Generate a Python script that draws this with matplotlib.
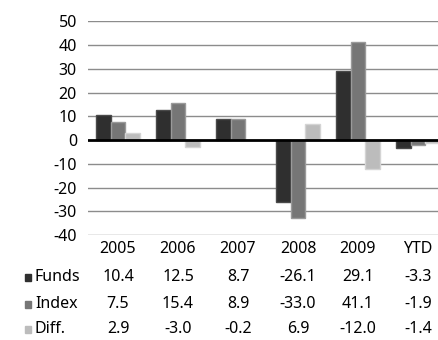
import numpy as np
import matplotlib
matplotlib.use("Agg")
import matplotlib.pyplot as plt
import matplotlib.transforms as mtransforms

plt.rcParams['font.family'] = ['Noto Sans', 'DejaVu Sans']

# data
years = ['2005', '2006', '2007', '2008', '2009', 'YTD']
funds = [10.4, 12.5, 8.7, -26.1, 29.1, -3.3]
index = [7.5, 15.4, 8.9, -33.0, 41.1, -1.9]
diff = [2.9, -3.0, -0.2, 6.9, -12.0, -1.4]
series_names = ['Funds', 'Index', 'Diff.']
series_vals = [funds, index, diff]
yticks = [-40, -30, -20, -10, 0, 10, 20, 30, 40, 50]

colors = ['#2f2f2f', '#767676', '#bcbcbc']
edges = ['#4a4a4a', '#9a9a9a', '#d4d4d4']
fs = 11.5

fig = plt.figure(figsize=(4.38, 3.40), dpi=100)
ax = fig.add_axes([88/438, 1-235/340, 360/438, (235-21.3)/340])

x = np.arange(len(years))
w = 0.247
for i in range(3):
    ax.bar(x + (i-1)*w, series_vals[i], width=w, color=colors[i],
           edgecolor=edges[i], linewidth=1, zorder=3)

for t in yticks:
    if t != 0:
        ax.axhline(t, color='#8c8c8c', linewidth=1, zorder=1)
ax.axhline(0, color='black', linewidth=2, zorder=4)

ax.set_xlim(-0.5, len(years)-0.5)
ax.set_ylim(-40, 50)
ax.set_yticks(yticks)
ax.set_yticklabels([str(t) for t in yticks], fontsize=fs)
ax.set_xticks([])
ax.tick_params(axis='y', length=0, pad=8)
for s in ax.spines.values():
    s.set_visible(False)

# table under the chart
trans = mtransforms.blended_transform_factory(ax.transData, fig.transFigure)
row_y = [1-249/340, 1-277/340, 1-304/340, 1-329/340]
for j, yr in enumerate(years):
    ax.text(x[j], row_y[0], yr, transform=trans, ha='center', va='center',
            fontsize=fs, clip_on=False)
for i in range(3):
    fig.patches.append(plt.Rectangle((24.5/438, row_y[i+1]-3.5/340), 6.5/438, 7/340,
                                     transform=fig.transFigure, color=colors[i]))
    fig.text(35/438, row_y[i+1], series_names[i], ha='left', va='center', fontsize=fs)
    for j in range(len(years)):
        ax.text(x[j], row_y[i+1], f"{series_vals[i][j]:.1f}", transform=trans,
                ha='center', va='center', fontsize=fs, clip_on=False)

plt.savefig('out.png', dpi=100)
